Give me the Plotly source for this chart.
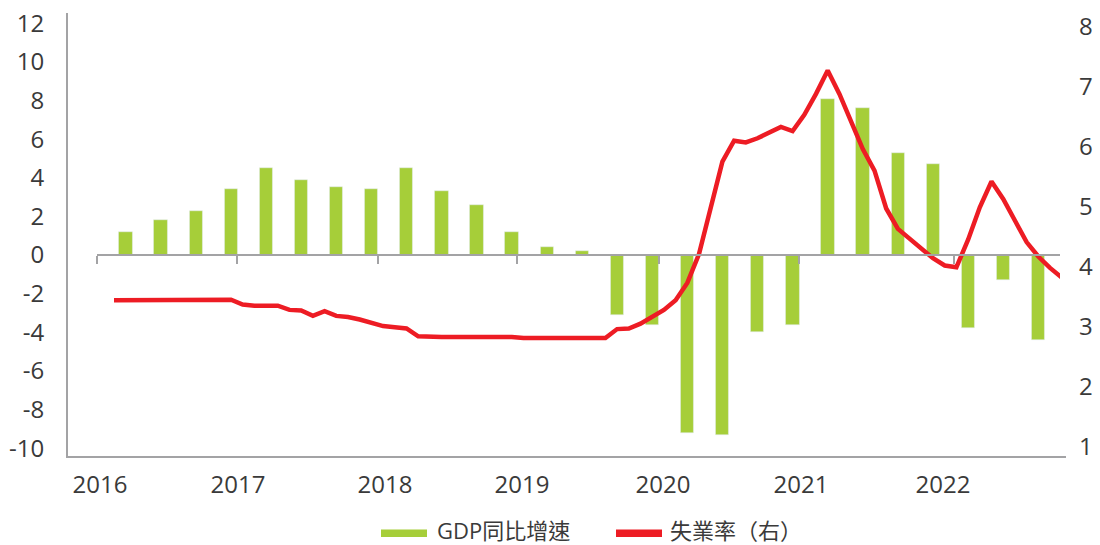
import pandas as pd
import plotly.graph_objects as go

# ---------------- data ----------------
months = pd.period_range("2016-01", "2022-10", freq="M").strftime("%Y-%m").tolist()
unemployment = [
    3.44, 3.44, 3.44, 3.44, 3.44, 3.44,
    3.45, 3.45, 3.45, 3.45, 3.45,
    3.37, 3.35, 3.35, 3.35, 3.28, 3.27, 3.18, 3.26, 3.18, 3.16, 3.12, 3.06, 3.01, 2.99, 2.97, 2.84,
    2.83, 2.83, 2.83, 2.83, 2.83, 2.83, 2.83, 2.83,
    2.81, 2.81, 2.81, 2.81, 2.81, 2.81, 2.81, 2.81,
    2.96, 2.97, 3.05, 3.16, 3.28, 3.44, 3.73, 4.21, 4.96, 5.75,
    6.10, 6.07, 6.14, 6.24, 6.33, 6.26, 6.53, 6.88, 7.27, 6.88,
    6.40, 5.96, 5.60, 4.97, 4.63, 4.47, 4.31, 4.14, 4.02, 3.99,
    4.45, 4.99, 5.42, 5.13, 4.77, 4.41, 4.17, 3.98, 3.82,
]
quarters = [f"{y}Q{q}" for y in range(2016, 2023) for q in range(1, 5)][:27]
gdp_yoy = [1.2, 1.8, 2.3, 3.4, 4.5, 3.9, 3.5, 3.4, 4.5, 3.3, 2.6, 1.2, 0.4, 0.2,
           -3.1, -3.6, -9.2, -9.3, -4.0, -3.6, 8.1, 7.6, 5.3, 4.7, -3.8, -1.3, -4.4]
years = ["2016", "2017", "2018", "2019", "2020", "2021", "2022"]
left_ticks = list(range(-10, 13, 2))
left_ticktext = [str(v) for v in left_ticks]   # plain hyphen-minus as in the source
right_ticks = list(range(1, 9))

# ---------------- positions (month index, 0 = 2016-01) ----------------
line_x = list(range(len(months)))
bar_x = [months.index(f"{q[:4]}-{(int(q[-1]) - 1) * 3 + 2:02d}") for q in quarters]  # middle month of quarter
year_tick_pos = [-1.48, 10.49, 22.59, 34.42, 46.58, 58.55, 71.79]
year_label_pos = [-1.2, 10.6, 23.16, 34.87, 46.92, 58.72, 70.85]

# ---------------- geometry ----------------
W, H = 1100, 545
L, R, T, B = 68, 1066, 13, 456          # plot area in pixels
PX0, PXM = 114.0, 11.7                 # pixel of month 0, pixels per month
def m_of(px):
    return (px - PX0) / PXM
X0, X1 = m_of(L), m_of(R)
Z0, Z1 = m_of(96.7), m_of(1060)
dom2 = [(96.7 - L) / (R - L), (1060 - L) / (R - L)]
YL = [-10.409, 12.533]
YR = [0.845, 8.228]
zero_pos = (0 - YL[0]) / (YL[1] - YL[0])

def px(x):
    return (x - L) / (R - L)
def py(y):
    return (B - y) / (B - T)

GREEN = "#a6ce39"
RED = "#ed1c24"
GREY = "#a3a3a5"
TXT = "#3a3a3a"
FONT = "Open Sans, Noto Sans CJK TC, sans-serif"

fig = go.Figure()
fig.add_trace(go.Scatter(x=[], y=[], xaxis="x", yaxis="y", showlegend=False, hoverinfo="skip"))
fig.add_trace(go.Bar(x=bar_x, y=gdp_yoy, name="GDP同比增速", marker_color=GREEN,
                     width=1.14, xaxis="x2", yaxis="y", showlegend=False))
fig.add_trace(go.Scatter(x=line_x, y=unemployment, name="失業率（右）", mode="lines",
                         line=dict(color=RED, width=4.5), xaxis="x2", yaxis="y2",
                         showlegend=False))

fig.update_layout(
    width=W, height=H, autosize=False,
    margin=dict(l=L, r=W - R, t=T, b=H - B, pad=0),
    paper_bgcolor="white", plot_bgcolor="rgba(0,0,0,0)",
    font=dict(family=FONT, size=24, color=TXT),
    showlegend=False,
    bargap=0,
    xaxis=dict(domain=[0, 1], range=[X0, X1], showline=True, linecolor=GREY, linewidth=2,
               ticks="", tickvals=year_label_pos, ticktext=years, showgrid=False,
               zeroline=False, ticklabelstandoff=6, automargin=False,
               tickfont=dict(size=24, color=TXT)),
    xaxis2=dict(domain=dom2, range=[Z0, Z1], anchor="free", position=zero_pos,
                showline=True, linecolor=GREY, linewidth=2.3, ticks="outside", ticklen=8,
                tickwidth=2, tickcolor=GREY, tickvals=year_tick_pos, showticklabels=False,
                showgrid=False, zeroline=False, automargin=False),
    yaxis=dict(range=YL, anchor="x", showline=True, linecolor=GREY, linewidth=2, ticks="",
               tickvals=left_ticks, ticktext=left_ticktext, showgrid=False, zeroline=False,
               ticklabelstandoff=17, automargin=False, tickfont=dict(size=24, color=TXT)),
    yaxis2=dict(range=YR, overlaying="y", side="right", anchor="free", position=1,
                showline=False, ticks="", tickvals=right_ticks, showgrid=False,
                zeroline=False, ticklabelstandoff=12, automargin=False,
                tickfont=dict(size=24, color=TXT)),
)

# manual legend
fig.add_shape(type="rect", xref="paper", yref="paper", x0=px(381), x1=px(427),
              y0=py(529.5), y1=py(537), fillcolor=GREEN, line_width=0)
fig.add_shape(type="rect", xref="paper", yref="paper", x0=px(616), x1=px(662),
              y0=py(529.5), y1=py(537), fillcolor=RED, line_width=0)
fig.add_annotation(xref="paper", yref="paper", x=px(436), y=py(530), text="GDP同比增速",
                   showarrow=False, xanchor="left", yanchor="middle", borderpad=0,
                   font=dict(size=22, color=TXT, family=FONT))
fig.add_annotation(xref="paper", yref="paper", x=px(669), y=py(530), text="失業率（右）",
                   showarrow=False, xanchor="left", yanchor="middle", borderpad=0,
                   font=dict(size=22, color=TXT, family=FONT))

fig.write_html("out.html", config={"displayModeBar": False},
               post_script="document.body.style.margin='0';")
